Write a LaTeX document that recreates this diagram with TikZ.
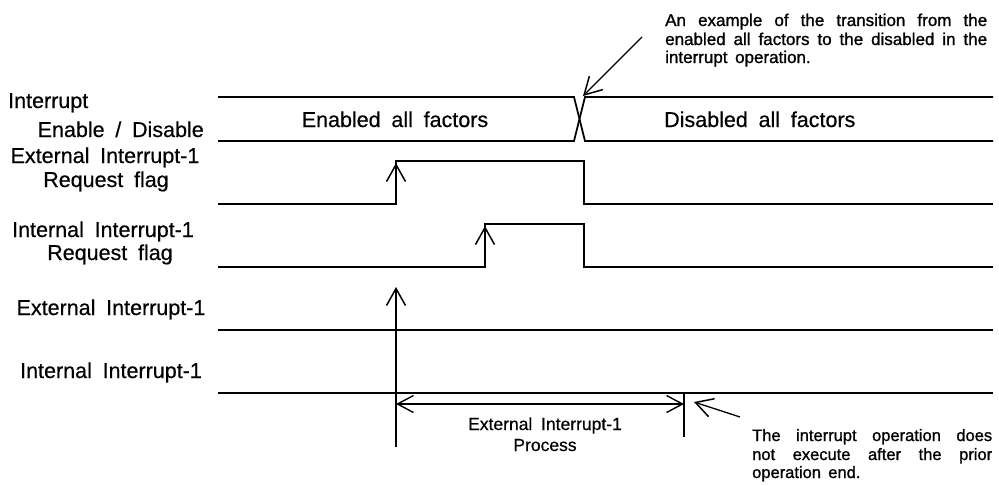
\documentclass[tikz,border=0pt]{standalone}
\usepackage{fontspec}
\setmainfont[WordSpace=1.8, FakeBold=0.5]{Liberation Sans}
\newfontfamily\notefont[WordSpace=1.6, FakeBold=1.1]{Liberation Sans}
\usetikzlibrary{arrows.meta}
\newcommand{\jline}[2]{\makebox[#1][s]{#2}}
\begin{document}
\begin{tikzpicture}[x=1pt,y=-1pt,
  sig/.style={line width=1.8pt, line join=miter},
  thin/.style={line width=1.3pt},
  lbl/.style={font=\fontsize{21.5}{24}\selectfont, inner sep=0pt},
  mid/.style={font=\fontsize{17.5}{21}\selectfont, inner sep=0pt, align=center},
  note/.style={font=\notefont\fontsize{17}{18.5}\selectfont, inner sep=0pt, anchor=base west},
  bnote/.style={font=\notefont\fontsize{16.5}{18.5}\selectfont, inner sep=0pt, anchor=base west},
  barb/.style={-{Straight Barb[length=17pt,width=19pt,line width=1.5pt]}},
  dbarb/.style={{Straight Barb[length=16pt,width=17pt,line width=1.4pt]}-{Straight Barb[length=16pt,width=17pt,line width=1.4pt]}}]
\useasboundingbox (0,0) rectangle (999,485);

% ---------- left labels ----------
\node[lbl, anchor=base west] (l1a) at (8,108) {Interrupt};
\node[lbl, anchor=base east] (l1b) at (204,137) {Enable / Disable};
\node[lbl, anchor=base] (l2a) at (105,163) {External Interrupt-1};
\node[lbl, anchor=base] (l2b) at (106,187) {Request flag};
\node[lbl, anchor=base] (l3a) at (103,237) {Internal Interrupt-1};
\node[lbl, anchor=base] (l3b) at (110,260) {Request flag};
\node[lbl, anchor=base] (l4) at (111,315) {External Interrupt-1};
\node[lbl, anchor=base] (l5) at (111,378) {Internal Interrupt-1};

% ---------- row 1: enable / disable bus ----------
\coordinate (bTL) at (218,97);
\coordinate (bBL) at (218,141);
\coordinate (xTL) at (574,97);
\coordinate (xBL) at (574,141);
\coordinate (xTR) at (585,97);
\coordinate (xBR) at (585,141);
\coordinate (bTR) at (993,97);
\coordinate (bBR) at (993,141);
\draw[sig] (bTL) -- (xTL) -- (xBR) -- (bBR);
\draw[sig] (bBL) -- (xBL) -- (xTR) -- (bTR);
\node[lbl, anchor=base] (en) at (395,127) {Enabled all factors};
\node[lbl, anchor=base west] (dis) at (664,127) {Disabled all factors};

% ---------- row 2: external request flag ----------
\coordinate (e0) at (218,204);
\coordinate (e1) at (396,204);
\coordinate (e2) at (396,161);
\coordinate (e3) at (584,161);
\coordinate (e4) at (584,204);
\coordinate (e5) at (993,204);
\draw[sig] (e0) -- (e1) -- (e2) -- (e3) -- (e4) -- (e5);
\coordinate (ea) at (396,163);
\draw[sig, barb] (e1) -- (ea);

% ---------- row 3: internal request flag ----------
\coordinate (i0) at (218,267);
\coordinate (i1) at (485,267);
\coordinate (i2) at (485,224);
\coordinate (i3) at (584,224);
\coordinate (i4) at (584,267);
\coordinate (i5) at (993,267);
\draw[sig] (i0) -- (i1) -- (i2) -- (i3) -- (i4) -- (i5);
\coordinate (ia) at (485,226);
\draw[sig, barb] (i1) -- (ia);

% ---------- row 4 / row 5 ----------
\coordinate (r4a) at (218,330);
\coordinate (r4b) at (993,330);
\draw[sig] (r4a) -- (r4b);
\coordinate (r5a) at (218,393);
\coordinate (r5b) at (993,393);
\draw[sig] (r5a) -- (r5b);

\coordinate (vb) at (396,447);
\coordinate (vt) at (396,287);
\draw[sig, barb] (vb) -- (vt);

% ---------- process span ----------
\coordinate (pt) at (684,393);
\coordinate (pb) at (684,437);
\draw[thin] (pt) -- (pb);
\coordinate (pl) at (396,404);
\coordinate (pr) at (684,404);
\draw[thin, dbarb] (pl) -- (pr);
\node[mid, anchor=base] (proc1) at (545,430) {External Interrupt-1};
\node[mid, anchor=base] (proc2) at (545,451) {Process};

% ---------- notes ----------
\node[note] (tn1) at (665,26) {\jline{322pt}{An example of the transition from the}};
\node[note] (tn2) at (665,45) {\jline{322pt}{enabled all factors to the disabled in the}};
\node[note] (tn3) at (665,63) {interrupt operation.};
\coordinate (tn) at (642,37);
\coordinate (xc) at (583,96);
\draw[thin, barb] (tn) -- (xc);

\node[bnote] (bn1) at (752,441) {\jline{240pt}{The interrupt operation does}};
\node[bnote] (bn2) at (752,460) {\jline{240pt}{not execute after the prior}};
\node[bnote] (bn3) at (752,478) {operation end.};
\coordinate (bn) at (740,417);
\coordinate (bt) at (694,402);
\draw[thin, barb] (bn) -- (bt);
\end{tikzpicture}
\end{document}
